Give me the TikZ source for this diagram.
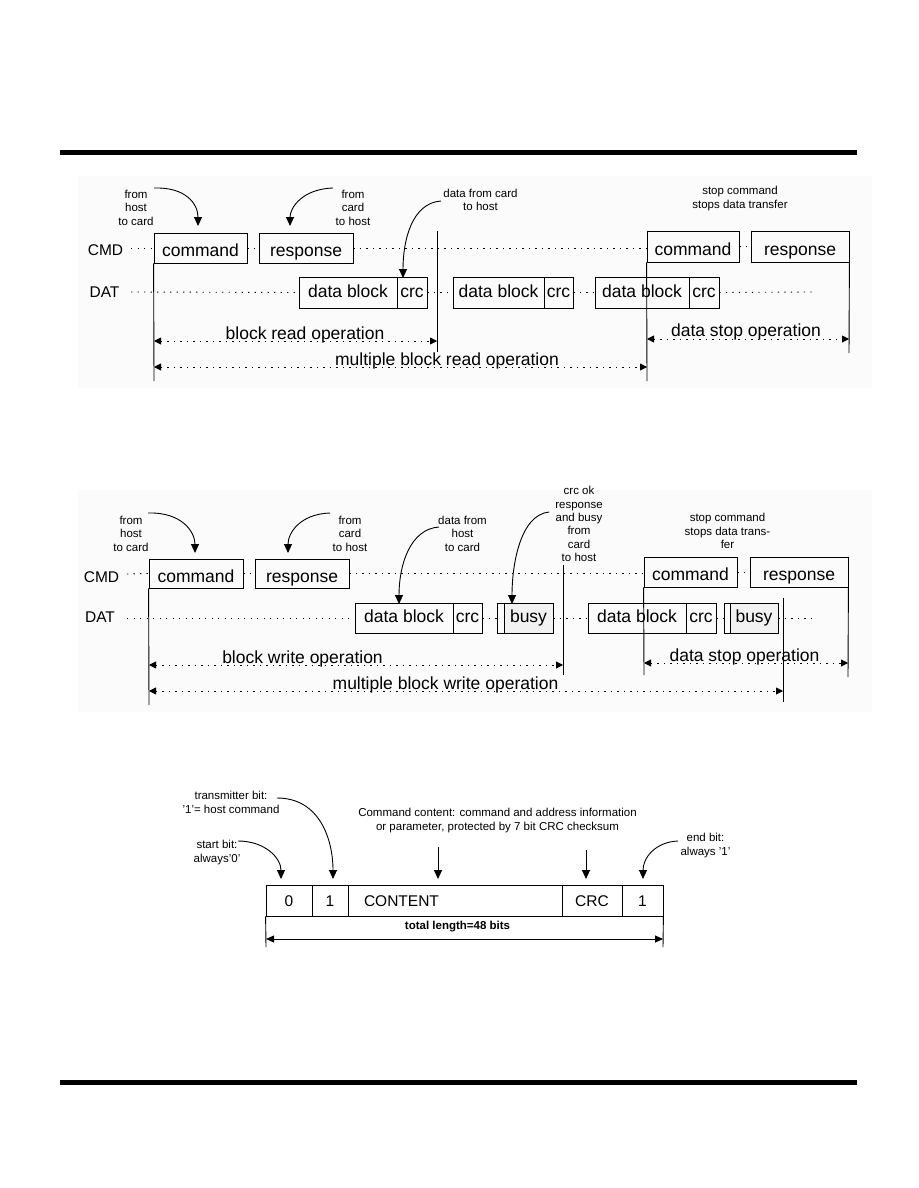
\documentclass[tikz,border=0pt]{standalone}
\usepackage{fontspec}
\setmainfont{Liberation Sans}
\usetikzlibrary{arrows.meta}
\newcommand\fbig{\fontsize{17.5}{20}\selectfont}
\newcommand\flab{\fontsize{15.5}{18}\selectfont}
\newcommand\fnote{\fontsize{11.5}{13.4}\selectfont}
\newcommand\ftot{\fontsize{11.5}{13.5}\selectfont\bfseries}
\definecolor{busyfill}{RGB}{242,242,242}
\definecolor{bgc}{RGB}{251,251,251}
\tikzset{
  box/.style={draw, line width=0.8pt, inner sep=0pt, font=\fbig, text height=12.5, text depth=3.5},
  cbox/.style={box, text height=17, text depth=0},
  cell/.style={draw, line width=0.8pt, inner sep=0pt, minimum height=31, font=\flab, text height=11, text depth=0},
  sig/.style={font=\flab},
  note/.style={font=\fnote, align=center, inner sep=0pt},
  optext/.style={font=\fbig, inner sep=0pt, anchor=base},
  dotl/.style={line width=0.9pt, dash pattern=on 1.3pt off 5.2pt},
  vline/.style={line width=0.9pt},
  op/.style={dotl, {Triangle[length=7pt,width=7pt]}-{Triangle[length=7pt,width=7pt]}},
  curv/.style={line width=0.9pt, -{Triangle[length=9pt,width=8pt]}},
  dim/.style={line width=0.9pt, {Triangle[length=8pt,width=7pt]}-{Triangle[length=8pt,width=7pt]}}
}
\begin{document}
\begin{tikzpicture}[x=1pt,y=-1pt]
\useasboundingbox (0,0) rectangle (918,1188);
\fill[white] (0,0) rectangle (918,1188);
% rules
\fill[black] (60,150) rectangle (857,155);
\fill[black] (60,1080) rectangle (857,1085);
% faint backgrounds
\fill[bgc] (78,176) rectangle (872,388);
\fill[bgc] (78,490) rectangle (872,712);

%================ TOP: block read =================
\node[sig] (cmdL) at (105.5,250) {CMD};
\node[sig] (datL) at (104.5,292) {DAT};
\node[cbox, minimum width=93, minimum height=30] (cmdA) at (200.5,248) {command};
\node[cbox, minimum width=94, minimum height=30] (rspA) at (306,248) {response};
\node[cbox, minimum width=92, minimum height=31] (cmdB) at (693,246.5) {command};
\node[cbox, minimum width=98, minimum height=31] (rspB) at (800,246.5) {response};
\node[box, minimum width=98, minimum height=31] (dbA) at (348,292.5) {data block};
\node[box, minimum width=30, minimum height=31] (crcA) at (412,292.5) {crc};
\node[box, minimum width=91, minimum height=31] (dbB) at (498.5,292.5) {data block};
\node[box, minimum width=29, minimum height=31] (crcB) at (558.5,292.5) {crc};
\node[box, minimum width=94, minimum height=31] (dbC) at (642,292.5) {data block};
\node[box, minimum width=30, minimum height=31] (crcC) at (704,292.5) {crc};

\coordinate (cmdS) at (131,248);
\coordinate (datS) at (131,292);
\coordinate (datE) at (813,292);
\draw[dotl] (cmdS) -- (cmdA.west);
\draw[dotl] (cmdA.east) -- (rspA.west);
\draw[dotl] (rspA.east) -- (rspA.east -| cmdB.west);
\draw[dotl] (cmdB.east) -- (rspB.west);
\draw[dotl] (datS) -- (dbA.west);
\draw[dotl] (crcA.east) -- (dbB.west);
\draw[dotl] (crcB.east) -- (dbC.west);
\draw[dotl] (crcC.east) -- (datE);

\coordinate (vAb) at (154,381);
\coordinate (vBt) at (437,231);
\coordinate (vBb) at (437,352);
\coordinate (vCb) at (647,381);
\coordinate (vDb) at (849,353);
\draw[vline] (cmdA.south west) -- (vAb);
\draw[vline] (vBt) -- (vBb);
\draw[vline] (cmdB.south west) -- (vCb);
\draw[vline] (rspB.south east) -- (vDb);

\coordinate (brL) at (154,341);
\coordinate (brR) at (437,341);
\coordinate (mbrL) at (154,367);
\coordinate (mbrR) at (647,367);
\coordinate (dsL) at (647,339);
\coordinate (dsR) at (849,339);
\draw[op] (brL) -- (brR);
\draw[op] (mbrL) -- (mbrR);
\draw[op] (dsL) -- (dsR);
\node[optext] (tBR) at (305,339) {block read operation};
\node[optext] (tMBR) at (447,365.5) {multiple block read operation};
\node[optext] (tDS) at (746,336.5) {data stop operation};

\node[note] (nA) at (136,207.5) {from\\host\\to card};
\node[note] (nB) at (353,207.5) {from\\card\\to host};
\node[note] (nC) at (480.5,200) {data from card\\to host};
\node[note] (nD) at (740,198.5) {stop command\\stops data transfer};
\coordinate (aA) at (154,188);
\coordinate (aAe) at (198,226);
\coordinate (aB) at (333,188);
\coordinate (aBe) at (290,226);
\coordinate (aC) at (441,201);
\coordinate (aCe) at (403,278);
\draw[curv] (aA) .. controls (186,187) and (198,204) .. (aAe);
\draw[curv] (aB) .. controls (302,189) and (290,208) .. (aBe);
\draw[curv] (aC) .. controls (412,203) and (403,240) .. (aCe);

%================ MIDDLE: block write =================
\node[sig] (cmdL2) at (101.5,577) {CMD};
\node[sig] (datL2) at (100,617) {DAT};
\node[cbox, minimum width=94, minimum height=29] (cmdA2) at (196,573.5) {command};
\node[cbox, minimum width=94, minimum height=29] (rspA2) at (302,573.5) {response};
\node[cbox, minimum width=93, minimum height=30] (cmdB2) at (690.5,572) {command};
\node[cbox, minimum width=98, minimum height=30] (rspB2) at (799,572) {response};
\node[box, minimum width=98, minimum height=30] (db1) at (404,618) {data block};
\node[box, minimum width=29, minimum height=30] (crc1) at (467.5,618) {crc};
\node[box, minimum width=7, minimum height=30] (bs1) at (500.5,618) {};
\node[box, fill=busyfill, minimum width=49, minimum height=30] (busy1) at (528.5,618) {busy};
\node[box, minimum width=98, minimum height=30] (db2) at (637,618) {data block};
\node[box, minimum width=30, minimum height=30] (crc2) at (701,618) {crc};
\node[box, minimum width=6, minimum height=30] (bs2) at (727,618) {};
\node[box, fill=busyfill, minimum width=48, minimum height=30] (busy2) at (754,618) {busy};

\coordinate (cmdS2) at (127,574);
\coordinate (datS2) at (127,618);
\coordinate (datE2) at (813,618);
\draw[dotl] (cmdS2) -- (cmdA2.west);
\draw[dotl] (cmdA2.east) -- (rspA2.west);
\draw[dotl] (rspA2.east) -- (rspA2.east -| cmdB2.west);
\draw[dotl] (cmdB2.east) -- (rspB2.west);
\draw[dotl] (datS2) -- (db1.west);
\draw[dotl] (crc1.east) -- (bs1.west);
\draw[dotl] (busy1.east) -- (db2.west);
\draw[dotl] (crc2.east) -- (bs2.west);
\draw[dotl] (busy2.east) -- (datE2);

\coordinate (wAb) at (149,705);
\coordinate (wBt) at (563,565);
\coordinate (wBb) at (563,675);
\coordinate (wCb) at (644,675);
\coordinate (wDb) at (848,677);
\coordinate (wEt) at (783,598);
\coordinate (wEb) at (783,702);
\draw[vline] (cmdA2.south west) -- (wAb);
\draw[vline] (wBt) -- (wBb);
\draw[vline] (cmdB2.south west) -- (wCb);
\draw[vline] (rspB2.south east) -- (wDb);
\draw[vline] (wEt) -- (wEb);

\coordinate (bwL) at (149,665);
\coordinate (bwR) at (563,665);
\coordinate (mbwL) at (149,691);
\coordinate (mbwR) at (783,691);
\coordinate (ds2L) at (644,663);
\coordinate (ds2R) at (848,663);
\draw[op] (bwL) -- (bwR);
\draw[op] (mbwL) -- (mbwR);
\draw[op] (ds2L) -- (ds2R);
\node[optext] (tBW) at (302.5,663.5) {block write operation};
\node[optext] (tMBW) at (445.5,689.5) {multiple block write operation};
\node[optext] (tDS2) at (744.5,661.5) {data stop operation};

\node[note] (mA) at (131,533.5) {from\\host\\to card};
\node[note] (mB) at (350,533.5) {from\\card\\to host};
\node[note] (mC) at (462.5,533.5) {data from\\host\\to card};
\node[note] (mD) at (579,524) {crc ok\\response\\and busy\\from\\card\\to host};
\node[note] (mE) at (727.5,531) {stop command\\stops data trans-\\fer};
\coordinate (bA) at (148,513);
\coordinate (bAe) at (195,553);
\coordinate (bB) at (330,513);
\coordinate (bBe) at (288,553);
\coordinate (bC) at (439,527);
\coordinate (bCe) at (399,604);
\coordinate (bD) at (549,512);
\coordinate (bDe) at (512,604);
\draw[curv] (bA) .. controls (182,512) and (195,532) .. (bAe);
\draw[curv] (bB) .. controls (300,514) and (288,533) .. (bBe);
\draw[curv] (bC) .. controls (410,529) and (399,565) .. (bCe);
\draw[curv] (bD) .. controls (520,515) and (512,565) .. (bDe);

%================ BOTTOM: command frame =================
\node[cell, minimum width=46] (c0) at (289,900.5) {0};
\node[cell, minimum width=36] (c1) at (330,900.5) {1};
\node[cell, minimum width=214, text width=182, inner xsep=16, align=left] (cC) at (455,900.5) {CONTENT};
\node[cell, minimum width=60] (cR) at (592,900.5) {CRC};
\node[cell, minimum width=41] (cE) at (642.5,900.5) {1};
\coordinate (fL) at (266,947);
\coordinate (fR) at (663,947);
\draw[vline] (c0.south west) -- (fL);
\draw[vline] (cE.south east) -- (fR);
\coordinate (lenL) at (266,939);
\coordinate (lenR) at (663,939);
\draw[dim] (lenL) -- (lenR);
\node[font=\ftot, inner sep=0pt] (tot) at (457.5,927) {total length=48 bits};

\node[note] (kA) at (231,802.5) {transmitter bit:\\{'}1{'}= host command};
\node[note] (kB) at (217,852.5) {start bit:\\always{'}0{'}};
\node[note] (kC) at (497.5,820.5) {Command content: command and address information\\or parameter, protected by 7 bit CRC checksum};
\node[note] (kD) at (705.5,845.5) {end bit:\\always {'}1{'}};
\coordinate (kAs) at (277,798);
\coordinate (kAe) at (333,879);
\coordinate (kBs) at (238,841);
\coordinate (kBe) at (281,879);
\coordinate (kCs) at (438,847);
\coordinate (kCe) at (438,879);
\coordinate (kRs) at (586,850);
\coordinate (kRe) at (586,879);
\coordinate (kDs) at (678,841);
\coordinate (kDe) at (643,879);
\draw[curv] (kAs) .. controls (320,798) and (333,840) .. (kAe);
\draw[curv] (kBs) .. controls (265,841) and (281,858) .. (kBe);
\draw[curv] (kCs) -- (kCe);
\draw[curv] (kRs) -- (kRe);
\draw[curv] (kDs) .. controls (655,842) and (643,858) .. (kDe);
\end{tikzpicture}
\end{document}
